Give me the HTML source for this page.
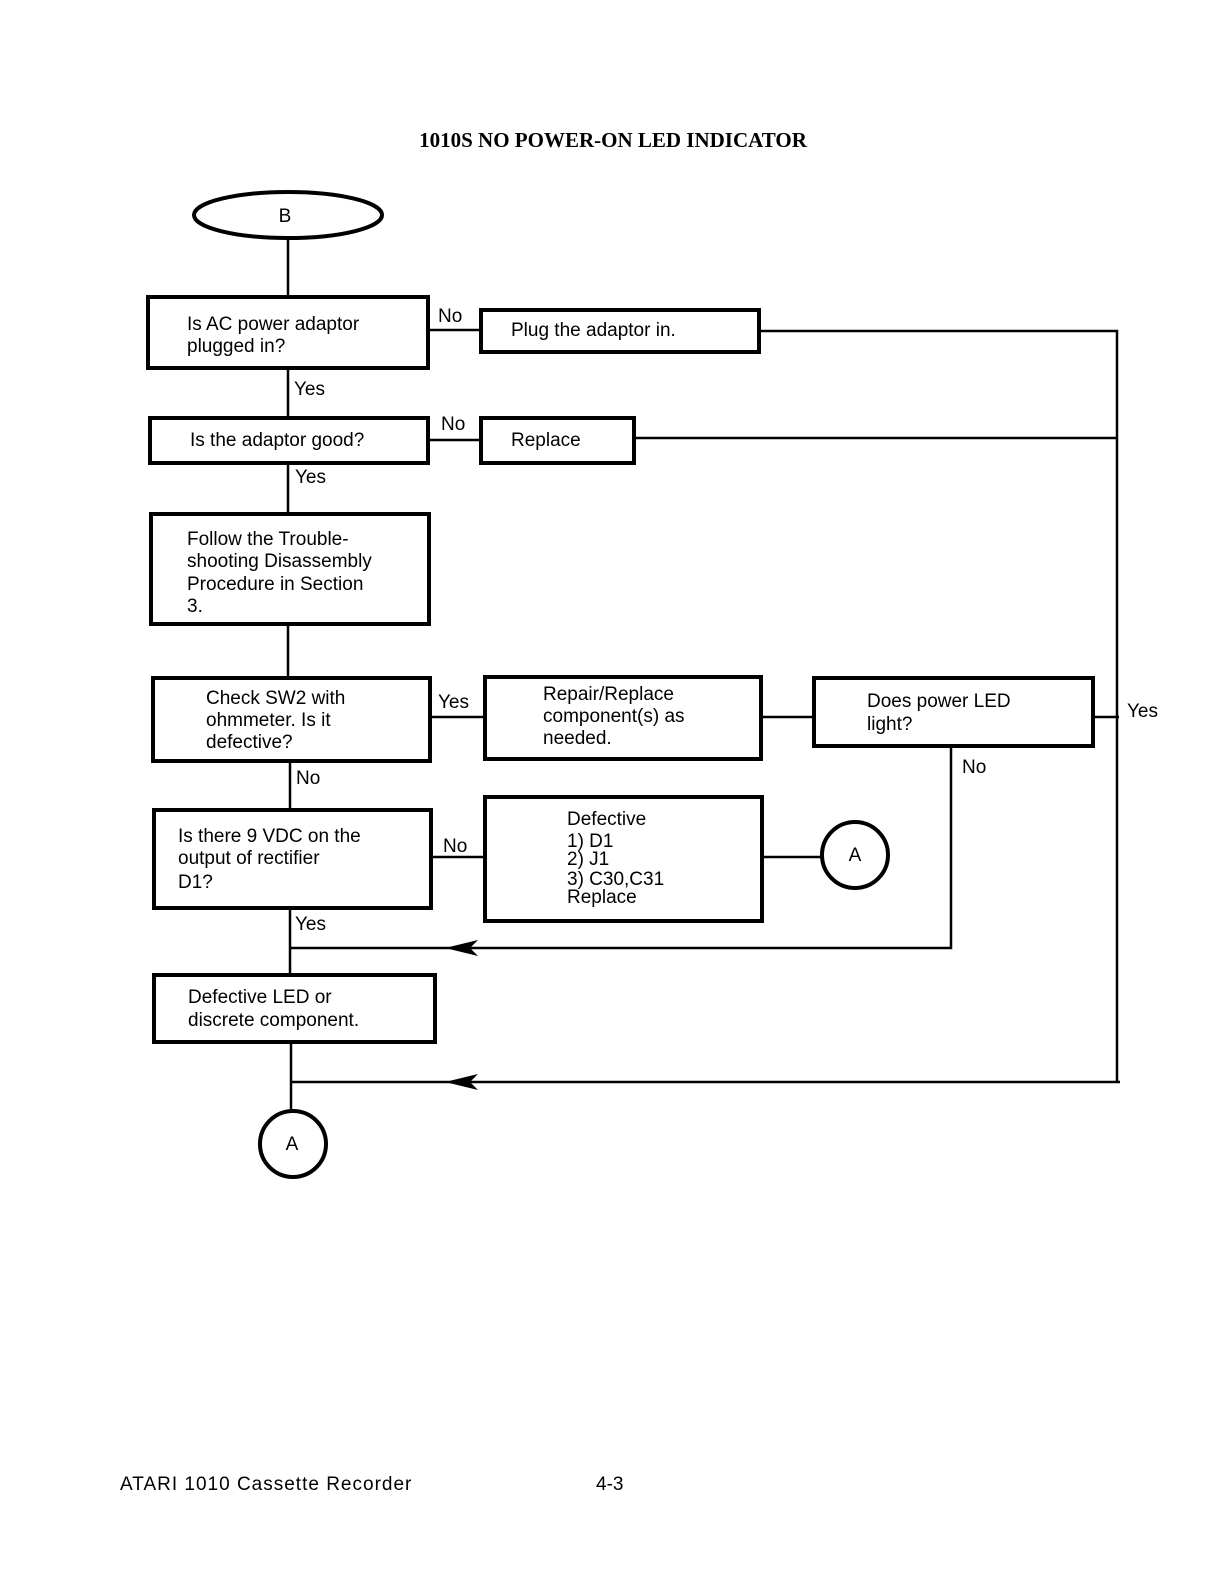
<!DOCTYPE html>
<html><head><meta charset="utf-8"><style>
html,body{margin:0;padding:0;background:#fff;}
svg{display:block;}
text{font-family:"Liberation Sans",sans-serif;font-size:19px;fill:#000;}
.t{font-family:"Liberation Serif",serif;font-weight:bold;font-size:21px;}
.b{fill:none;stroke:#000;stroke-width:4;}
.l{fill:none;stroke:#000;stroke-width:2.5;}
</style></head><body>
<svg width="1220" height="1584" viewBox="0 0 1220 1584">
<text class="t" x="613" y="147" text-anchor="middle">1010S NO POWER-ON LED INDICATOR</text>
<ellipse cx="288" cy="215" rx="94" ry="23" class="b"/>
<text x="285" y="222" text-anchor="middle" font-size="17">B</text>
<path class="l" d="M288 239V297"/>
<rect x="148" y="297" width="280" height="71" class="b"/>
<text x="187" y="330">Is AC power adaptor</text><text x="187" y="352">plugged in?</text>
<text x="438" y="322">No</text>
<path class="l" d="M428 330H481"/>
<rect x="481" y="310" width="278" height="42" class="b"/>
<text x="511" y="336">Plug the adaptor in.</text>
<path class="l" d="M759 331H1117V1083"/>
<text x="294" y="395">Yes</text>
<path class="l" d="M288 368V418"/>
<rect x="150" y="418" width="278" height="45" class="b"/>
<text x="190" y="446">Is the adaptor good?</text>
<text x="441" y="430">No</text>
<path class="l" d="M428 440H481"/>
<rect x="481" y="418" width="153" height="45" class="b"/>
<text x="511" y="446">Replace</text>
<path class="l" d="M634 438H1117"/>
<path class="l" d="M288 463V514"/>
<text x="295" y="483">Yes</text>
<rect x="151" y="514" width="278" height="110" class="b"/>
<text x="187" y="545">Follow the Trouble-</text>
<text x="187" y="567">shooting Disassembly</text>
<text x="187" y="590">Procedure in Section</text>
<text x="187" y="612">3.</text>
<path class="l" d="M288 624V678"/>
<rect x="153" y="678" width="277" height="83" class="b"/>
<text x="206" y="704">Check SW2 with</text>
<text x="206" y="726">ohmmeter. Is it</text>
<text x="206" y="748">defective?</text>
<text x="438" y="708">Yes</text>
<path class="l" d="M430 717H485"/>
<rect x="485" y="677" width="276" height="82" class="b"/>
<text x="543" y="700">Repair/Replace</text>
<text x="543" y="722">component(s) as</text>
<text x="543" y="744">needed.</text>
<path class="l" d="M761 717H814"/>
<rect x="814" y="678" width="279" height="68" class="b"/>
<text x="867" y="707">Does power LED</text>
<text x="867" y="730">light?</text>
<path class="l" d="M1093 717H1119"/>
<text x="1127" y="717">Yes</text>
<text x="962" y="773">No</text>
<path class="l" d="M951 746V948H290"/>
<path d="M445 948L478 940L470 948L478 956Z" fill="#000"/>
<path class="l" d="M290 761V810"/>
<text x="296" y="784">No</text>
<rect x="154" y="810" width="277" height="98" class="b"/>
<text x="178" y="842">Is there 9 VDC on the</text>
<text x="178" y="864">output of rectifier</text>
<text x="178" y="888">D1?</text>
<text x="443" y="852">No</text>
<path class="l" d="M431 857H485"/>
<rect x="485" y="797" width="277" height="124" class="b"/>
<text x="567" y="825">Defective</text>
<text x="567" y="847">1) D1</text>
<text x="567" y="865">2) J1</text>
<text x="567" y="885">3) C30,C31</text>
<text x="567" y="903">Replace</text>
<path class="l" d="M762 857H821"/>
<circle cx="855" cy="855" r="33" class="b"/>
<text x="855" y="861" text-anchor="middle" font-size="18">A</text>
<path class="l" d="M290 908V975"/>
<text x="295" y="930">Yes</text>
<rect x="154" y="975" width="281" height="67" class="b"/>
<text x="188" y="1003">Defective LED or</text>
<text x="188" y="1026">discrete component.</text>
<path class="l" d="M291 1042V1112"/>
<path class="l" d="M1120 1082H291"/>
<path d="M445 1082L478 1074L470 1082L478 1090Z" fill="#000"/>
<circle cx="293" cy="1144" r="33" class="b"/>
<text x="292" y="1150" text-anchor="middle" font-size="18">A</text>
<text x="120" y="1490" font-size="21" letter-spacing="1">ATARI 1010 Cassette Recorder</text>
<text x="596" y="1490" font-size="21">4-3</text>
</svg>
</body></html>
